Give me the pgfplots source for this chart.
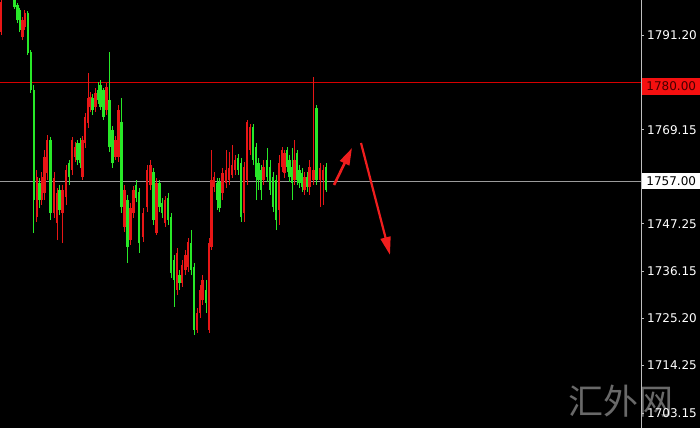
\documentclass[border=0pt]{standalone}
\usepackage{pgfplots}
\pgfplotsset{compat=1.18}
\usepackage{pgfplotstable}
\usepackage{fontspec}
\setmainfont{DejaVu Sans}
\newfontfamily\cjk{Noto Sans CJK SC}
\usetikzlibrary{arrows.meta}
\definecolor{candred}{RGB}{232,22,22}
\definecolor{candgreen}{RGB}{40,232,40}
\definecolor{axisgray}{RGB}{190,190,190}
\definecolor{lineRed}{RGB}{215,0,0}
\definecolor{lineGray}{RGB}{155,155,155}
\definecolor{boxred}{RGB}{245,16,16}
\definecolor{boxredtext}{RGB}{70,0,0}
\definecolor{arrowred}{RGB}{240,30,30}
\definecolor{wmgray}{RGB}{105,105,105}

% x = bar position, o h l c = open high low close
\pgfplotstableread{
x o h l c
1 1791.89 1800.50 1791.20 1798.88
22.3 1790.73 1795.39 1790.03 1794.69
24.8 1793.06 1797.02 1792.36 1796.32
36.8 1748.80 1759.75 1747.64 1758.12
41.8 1752.76 1759.28 1751.60 1758.12
44.3 1754.39 1764.41 1752.76 1762.78
47 1759.05 1767.90 1757.42 1766.74
54 1749.73 1759.28 1748.57 1757.89
57 1747.40 1755.56 1743.44 1754.39
62.5 1749.73 1756.26 1742.74 1755.09
66 1753.46 1760.91 1751.60 1759.75
72 1759.75 1767.44 1758.58 1766.74
75 1762.78 1766.27 1761.61 1765.11
82.5 1758.12 1767.67 1757.42 1766.74
85 1766.04 1773.03 1764.88 1772.10
88 1770.70 1782.35 1769.53 1776.52
90.5 1774.43 1777.92 1773.26 1776.76
95.5 1774.43 1778.85 1773.26 1777.69
106.5 1773.73 1780.02 1772.56 1779.08
115.5 1762.78 1767.67 1762.08 1766.74
118.5 1762.78 1774.89 1761.61 1773.73
124.5 1746.47 1756.26 1745.31 1755.09
130.5 1743.44 1752.06 1742.28 1750.90
133.5 1749.73 1756.02 1748.57 1755.09
143 1744.14 1750.90 1742.98 1749.73
147 1751.13 1760.91 1749.97 1759.75
150.5 1756.26 1762.08 1755.09 1760.91
156.5 1745.07 1757.88 1744.61 1756.72
165 1747.40 1753.69 1746.47 1752.76
177 1731.80 1741.58 1730.63 1740.42
182 1733.43 1738.79 1732.50 1737.62
185.5 1736.46 1741.12 1735.29 1739.95
188 1737.16 1743.91 1735.99 1742.98
197 1722.48 1727.60 1721.78 1726.44
200 1726.44 1732.96 1725.27 1731.80
202.5 1729.47 1735.29 1728.30 1734.13
209 1722.48 1743.91 1721.78 1742.74
211.5 1741.81 1764.41 1741.12 1757.42
214 1755.79 1759.28 1754.63 1758.12
222.5 1754.39 1760.22 1752.76 1759.05
226 1756.72 1764.41 1755.56 1759.75
229 1757.42 1763.94 1756.26 1760.22
232 1758.58 1765.57 1757.89 1760.91
235 1759.75 1763.24 1758.58 1762.08
244 1749.73 1761.61 1747.64 1760.45
247 1757.42 1771.40 1756.26 1770.93
250 1764.41 1770.47 1763.24 1769.77
263.5 1757.42 1762.08 1756.26 1760.45
279 1750.43 1763.24 1746.94 1761.38
282 1760.45 1765.11 1759.28 1764.41
284.5 1759.05 1764.41 1757.89 1763.71
294.5 1757.42 1766.74 1756.26 1762.08
304.5 1755.09 1759.28 1753.93 1758.12
309.5 1755.79 1762.08 1753.93 1760.45
313.5 1757.42 1781.41 1756.26 1759.75
320 1757.42 1761.38 1751.13 1760.22
323 1757.42 1760.91 1751.60 1759.75
}\upcandles

\pgfplotstableread{
x o h l c
14.5 1800.05 1800.50 1797.25 1797.72
17.2 1798.19 1798.65 1793.99 1794.69
19.8 1797.02 1797.49 1791.89 1792.36
27.8 1796.32 1796.79 1786.54 1787.00
30.8 1787.23 1787.70 1777.69 1778.39
33.8 1778.39 1779.55 1745.07 1752.76
39.3 1756.72 1757.88 1750.90 1752.76
50.5 1766.74 1767.44 1748.10 1749.73
59.5 1755.09 1756.26 1749.27 1750.43
69 1761.38 1762.08 1756.26 1758.12
77.5 1766.04 1766.74 1760.91 1762.08
80 1766.04 1767.20 1760.22 1761.38
92.5 1776.52 1777.45 1772.56 1773.73
98 1778.39 1780.25 1775.13 1776.06
100.5 1779.55 1780.71 1773.73 1774.43
103.5 1778.39 1778.85 1771.40 1772.10
109.5 1776.06 1787.23 1763.94 1765.11
112.5 1769.07 1770.00 1760.22 1761.38
121.5 1770.93 1776.52 1749.73 1751.13
127.5 1752.76 1753.93 1738.09 1741.81
136 1756.26 1757.42 1752.30 1753.23
139 1754.63 1755.56 1740.42 1742.74
153.5 1759.28 1760.22 1746.94 1748.10
159.5 1756.72 1757.42 1749.97 1751.13
162 1752.06 1753.23 1748.57 1749.73
168 1753.23 1754.39 1746.94 1748.10
171 1748.80 1749.73 1734.59 1735.76
174 1738.79 1739.95 1727.84 1734.13
179.5 1735.29 1736.46 1731.80 1733.43
191 1742.74 1745.77 1735.29 1736.46
194 1737.16 1738.09 1721.32 1722.48
206 1731.80 1734.13 1726.44 1728.77
217 1756.72 1757.88 1750.43 1752.76
219.5 1756.96 1757.88 1749.97 1750.90
238 1762.55 1763.48 1758.58 1759.75
241 1761.38 1762.55 1747.64 1748.80
253 1769.77 1770.47 1760.91 1762.08
256 1765.11 1766.04 1752.76 1758.12
258.5 1761.38 1762.55 1755.09 1757.42
261 1759.75 1760.91 1752.76 1755.09
267 1762.08 1764.88 1756.96 1758.12
270 1760.45 1762.08 1753.93 1755.09
273 1758.12 1759.28 1749.97 1751.13
276 1757.42 1758.58 1745.77 1748.10
287 1764.41 1765.11 1759.28 1760.45
289.5 1762.08 1763.24 1756.96 1758.12
292 1760.45 1764.88 1752.76 1756.72
297 1763.71 1764.41 1756.26 1757.42
299.5 1759.75 1760.91 1755.56 1756.72
302 1759.05 1760.22 1754.63 1755.79
307 1758.12 1759.28 1754.63 1755.79
316.5 1774.19 1774.89 1756.26 1757.42
326 1760.45 1761.38 1754.63 1755.09
}\downcandles

\begin{document}
\begin{tikzpicture}[x=1bp,y=1bp]
\useasboundingbox (0,0) rectangle (700,428);
\fill[black] (0,0) rectangle (700,428);
\node[text=wmgray, font=\cjk\fontsize{35bp}{37bp}\selectfont, inner sep=0pt] at (621,27) {汇外网};
\begin{axis}[
  at={(0,0)}, anchor=south west, scale only axis,
  width=641bp, height=428bp,
  xmin=0, xmax=641, ymin=1699.65, ymax=1799.35,
  axis x line=none, axis y line=right,
  axis line style={draw=axisgray, line width=0.8bp, -},
  xtick=\empty,
  ytick={1703.15,1714.25,1725.20,1736.15,1747.25,1769.15,1791.20},
  yticklabels={1703.15,1714.25,1725.20,1736.15,1747.25,1769.15,1791.20},
  ytick pos=right, yticklabel pos=right,
  tick align=outside, major tick length=3bp,
  tick style={draw=axisgray, line width=0.6bp},
  yticklabel style={text=white, font=\fontsize{12bp}{14bp}\selectfont, inner sep=0pt, anchor=west, xshift=3bp},
  clip=true,
]
\addplot[lineRed, line width=1.2bp] coordinates {(0,1780.2) (641,1780.2)};
\addplot[lineGray, line width=1bp] coordinates {(0,1757) (641,1757)};

\addplot[candred, line width=0.9bp, quiver={u=0, v=\thisrow{h}-\thisrow{l}}] table[x=x, y=l] {\upcandles};
\addplot[candred, line width=2.6bp, quiver={u=0, v=\thisrow{c}-\thisrow{o}}] table[x=x, y=o] {\upcandles};
\addplot[candgreen, line width=0.9bp, quiver={u=0, v=\thisrow{h}-\thisrow{l}}] table[x=x, y=l] {\downcandles};
\addplot[candgreen, line width=2.6bp, quiver={u=0, v=\thisrow{c}-\thisrow{o}}] table[x=x, y=o] {\downcandles};

\addplot[arrowred, line width=2.6bp, -{Triangle[length=17bp, width=10bp]}] coordinates {(334,1756.26) (352,1764.88)};
\addplot[arrowred, line width=2.2bp, -{Triangle[length=18bp, width=10bp]}] coordinates {(361,1766.04) (390,1739.95)};

\coordinate (A) at (axis cs:641,1780);
\coordinate (B) at (axis cs:641,1757);
\end{axis}
\node[fill=boxred, text=boxredtext, font=\fontsize{12bp}{14bp}\selectfont, inner sep=0pt, minimum width=58bp, minimum height=17bp, anchor=west] at ([xshift=1bp, yshift=-3.5bp]A) {1780.00};
\node[fill=white, text=black, font=\fontsize{12bp}{14bp}\selectfont, inner sep=0pt, minimum width=58bp, minimum height=16bp, anchor=west] at ([xshift=1bp, yshift=1bp]B) {1757.00};
\end{tikzpicture}
\end{document}
